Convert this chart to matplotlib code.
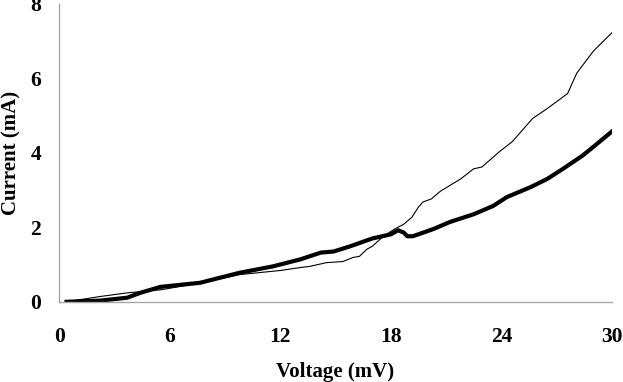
import matplotlib.pyplot as plt

plt.rcParams['font.family'] = ['Liberation Serif', 'DejaVu Serif']
plt.rcParams['font.weight'] = 'bold'

# thin curve
v_thin = [0.4, 2.2, 3.7, 5.5, 7.6, 9.8, 12.0, 13.1, 13.6, 14.5, 15.4, 15.95, 16.3,
          16.7, 17.0, 17.6, 18.2, 18.7, 19.15, 19.5, 19.75, 20.2, 20.7, 21.8,
          22.5, 22.95, 23.9, 24.6, 25.7, 26.5, 27.6, 28.1, 29.0, 30.0]
i_thin = [0.0, 0.14, 0.24, 0.32, 0.50, 0.73, 0.84, 0.92, 0.95, 1.05, 1.08, 1.19, 1.22,
          1.41, 1.49, 1.76, 1.95, 2.08, 2.27, 2.54, 2.68, 2.76, 2.97, 3.30,
          3.57, 3.62, 4.03, 4.30, 4.92, 5.19, 5.59, 6.14, 6.73, 7.22]

# thick curve
v_thick = [0.4, 2.2, 3.7, 4.4, 5.5, 7.65, 9.8, 11.6, 13.1, 14.2, 14.9, 15.8, 17.0,
           18.0, 18.4, 18.7, 18.9, 19.2, 20.3, 21.2, 22.5, 23.55, 24.3, 25.6,
           26.5, 27.35, 28.4, 29.0, 30.0]
i_thick = [0.0, 0.03, 0.11, 0.24, 0.40, 0.51, 0.78, 0.95, 1.14, 1.32, 1.35, 1.49, 1.70,
           1.81, 1.92, 1.86, 1.76, 1.76, 1.95, 2.14, 2.35, 2.57, 2.81, 3.08,
           3.30, 3.57, 3.92, 4.16, 4.57]

fig = plt.figure(figsize=(6.23, 3.82), dpi=100)
ax = fig.add_axes([0.095, 0.21, 0.887, 0.78])

ax.plot(v_thin, i_thin, color='black', linewidth=0.8)
ax.plot(v_thick, i_thick, color='black', linewidth=3.0)

ax.set_xlim(0, 30)
ax.set_ylim(0, 8)
ax.set_xticks([0, 6, 12, 18, 24, 30])
ax.set_yticks([0, 2, 4, 6, 8])
ax.tick_params(length=0, labelsize=15.5)
ax.tick_params(axis='x', pad=18)
ax.tick_params(axis='y', pad=13)

for s in ['top', 'right']:
    ax.spines[s].set_visible(False)
for s in ['left', 'bottom']:
    ax.spines[s].set_color('#a6a6a6')
    ax.spines[s].set_linewidth(1.0)

ax.set_xlabel('Voltage (mV)', fontsize=15, fontweight='bold', labelpad=11)
ax.set_ylabel('Current (mA)', fontsize=15, fontweight='bold', labelpad=6)

fig.savefig('out.png', dpi=100)
